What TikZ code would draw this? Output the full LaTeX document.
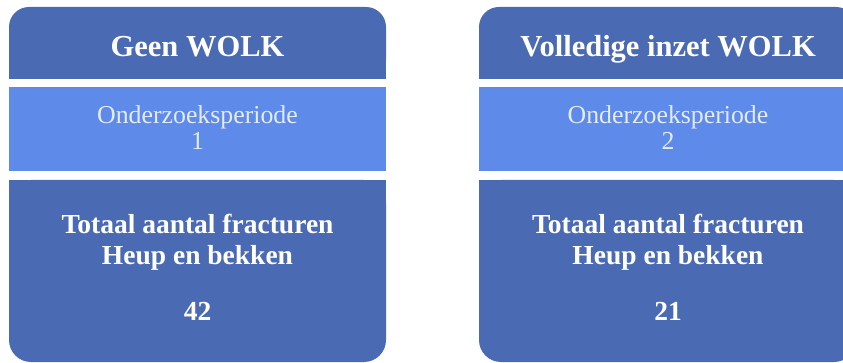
\documentclass[tikz,border=0pt]{standalone}
\usepackage{fontspec}
\setmainfont{Liberation Serif}
\definecolor{darkblue}{RGB}{74,106,180}
\definecolor{midblue}{RGB}{94,138,234}
\definecolor{paletext}{RGB}{228,235,250}
\begin{document}
\begin{tikzpicture}[x=1pt,y=-1pt,
  darkbox/.style={fill=darkblue},
  midbox/.style={fill=midblue},
  title/.style={anchor=base,text=white,font=\fontsize{30.5}{34}\selectfont\bfseries,inner sep=0pt},
  period/.style={anchor=base,text=paletext,font=\fontsize{25.8}{30}\selectfont,inner sep=0pt},
  total/.style={anchor=base,text=white,font=\fontsize{27.5}{30}\selectfont\bfseries,inner sep=0pt}]
\useasboundingbox (0,0) rectangle (843,363);
\clip (0,0) rectangle (843,363);
% left column
\fill[darkbox,rounded corners=20] (9,7) rectangle (386,79);
\fill[darkbox] (9,40) rectangle (386,79);
\fill[midbox] (9,87) rectangle (386,171);
\fill[darkbox,rounded corners=22] (9,180) rectangle (386,362);
\fill[darkbox] (9,180) rectangle (386,300);
% right column
\fill[darkbox,rounded corners=20] (479,7) rectangle (856,79);
\fill[darkbox] (479,40) rectangle (856,79);
\fill[midbox] (479,87) rectangle (856,171);
\fill[darkbox,rounded corners=22] (479,180) rectangle (856,362);
\fill[darkbox] (479,180) rectangle (856,300);
% texts left
\node[title] (t1) at (197.5,57) {Geen WOLK};
\node[period] (p1a) at (197.5,124) {Onderzoeksperiode};
\node[period] (p1b) at (197.5,150) {1};
\node[total] (f1a) at (197.5,234) {Totaal aantal fracturen};
\node[total] (f1b) at (197.5,265) {Heup en bekken};
\node[total] (f1c) at (197.5,320) {42};
% texts right
\node[title] (t2) at (668,57) {Volledige inzet WOLK};
\node[period] (p2a) at (668,124) {Onderzoeksperiode};
\node[period] (p2b) at (668,150) {2};
\node[total] (f2a) at (668,234) {Totaal aantal fracturen};
\node[total] (f2b) at (668,265) {Heup en bekken};
\node[total] (f2c) at (668,320) {21};
\end{tikzpicture}
\end{document}
